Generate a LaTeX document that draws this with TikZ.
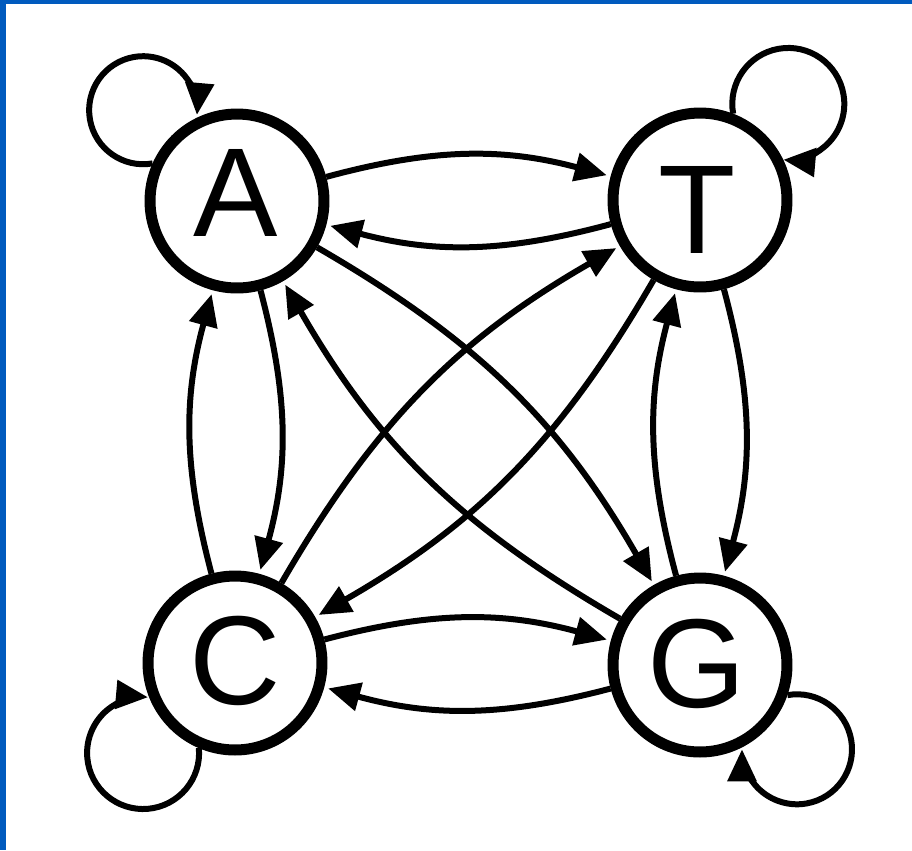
\documentclass[tikz,border=0pt]{standalone}
\usepackage{fontspec}
\setmainfont{Liberation Sans}
\usetikzlibrary{arrows.meta}
\definecolor{frameblue}{RGB}{0,90,190}
\begin{document}
\begin{tikzpicture}[x=0.02cm,y=-0.02cm,
  state/.style={circle,draw,line width=0.22cm,minimum size=3.48cm,inner sep=0pt},
  letter/.style={font=\fontsize{72}{72}\selectfont,inner sep=0pt},
  edge/.style={line width=0.12cm,-{Triangle[length=0.64cm,width=0.56cm]}},
  link/.style={edge,bend left=15,shorten >=0.08cm}]
\useasboundingbox (0,0) rectangle (912,850);
\fill[white] (0,0) rectangle (912,850);
\fill[frameblue] (0,0) rectangle (6,850);
\fill[frameblue] (0,0) rectangle (912,4);

% states
\node[state] (A) at (237,201) {};
\node[state] (T) at (700,200) {};
\node[state] (C) at (235,663) {};
\node[state] (G) at (700,665) {};
\node[letter] (Alab) at (236,193) {A};
\node[letter] (Tlab) at (697,210) {T};
\node[letter] (Clab) at (235,661) {C};
\node[letter] (Glab) at (697,664) {G};

% transitions between states
\draw[link] (A) to (T);
\draw[link] (T) to (A);
\draw[link] (A) to (C);
\draw[link] (C) to (A);
\draw[link] (T) to (G);
\draw[link] (G) to (T);
\draw[link] (C) to (G);
\draw[link] (G) to (C);
\draw[link] (A) to (G);
\draw[link] (G) to (A);
\draw[link] (C) to (T);
\draw[link] (T) to (C);

% self loops
\draw[edge] (A.156) arc[start angle=80,end angle=365,radius=54];
\draw[edge] (T.69) arc[start angle=170,end angle=455,radius=56];
\draw[edge] (C.247) arc[start angle=-5,end angle=275,radius=56];
\draw[edge] (G.-19) arc[start angle=260,end angle=540,radius=55];
\end{tikzpicture}
\end{document}
